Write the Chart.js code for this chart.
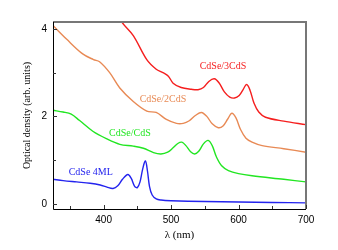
<!DOCTYPE html>
<html>
<head>
<meta charset="utf-8">
<script src="https://cdn.jsdelivr.net/npm/chart.js@4"></script>
<style>
  html, body { margin: 0; padding: 0; background: #fff; }
  #wrap { width: 338px; height: 250px; }
</style>
</head>
<body>
<div id="wrap"><canvas id="chart" width="338" height="250"></canvas></div>
<script>
// wavelength (nm) and optical density for each sample
const blueX = [325, 340, 360, 380, 395, 405, 414, 421, 428, 436, 441, 446, 450, 454, 458, 462, 465, 468, 472, 478, 485, 500, 550, 600, 650, 700];
const blueY = [0.56, 0.53, 0.5, 0.47, 0.43, 0.38, 0.35, 0.41, 0.56, 0.67, 0.58, 0.4, 0.37, 0.5, 0.8, 0.98, 0.75, 0.4, 0.2, 0.11, 0.085, 0.07, 0.05, 0.04, 0.03, 0.02];

const greenX = [325, 340, 352, 364, 384, 404, 424, 444, 459, 474, 485, 495, 503, 510, 516, 522, 529, 535, 541, 548, 555, 561, 567, 575, 585, 600, 620, 667, 700];
const greenY = [2.14, 2.1, 2.05, 1.91, 1.66, 1.49, 1.36, 1.32, 1.27, 1.17, 1.14, 1.18, 1.28, 1.38, 1.41, 1.33, 1.19, 1.14, 1.2, 1.37, 1.45, 1.33, 1.08, 0.87, 0.76, 0.69, 0.64, 0.56, 0.5];

const orangeX = [325, 345, 369, 385, 394, 409, 424, 444, 464, 478, 493, 508, 518, 527, 536, 545, 553, 561, 570, 577, 584, 590, 596, 603, 611, 620, 635, 667, 700];
const orangeY = [4.08, 3.77, 3.43, 3.3, 3.25, 3.0, 2.65, 2.34, 2.12, 2.09, 1.93, 1.84, 1.84, 1.9, 2.02, 2.09, 2.0, 1.83, 1.74, 1.78, 1.94, 2.07, 1.97, 1.7, 1.5, 1.41, 1.33, 1.26, 1.18];

const redX = [420, 427, 444, 464, 478, 488, 496, 503, 515, 530, 540, 548, 556, 564, 571, 579, 587, 594, 601, 607, 612, 617, 623, 630, 640, 667, 700];
const redY = [4.4, 4.16, 3.85, 3.3, 3.08, 3.0, 2.92, 2.76, 2.66, 2.62, 2.61, 2.66, 2.8, 2.86, 2.77, 2.56, 2.44, 2.42, 2.48, 2.62, 2.73, 2.6, 2.3, 2.1, 1.98, 1.89, 1.81];

const seriesNames = ['CdSe 4ML', 'CdSe/CdS', 'CdSe/2CdS', 'CdSe/3CdS'];
const seriesColors = ['#2323ee', '#22e622', '#e88a55', '#f51e1e'];
// where the sample names sit, in data coordinates
const labelX = [381, 439, 488, 577];
const labelY = [0.72, 1.6, 2.38, 3.14];

const xTicks = [350, 400, 450, 500, 550, 600, 650, 700];
const yTicks = [0, 1, 2, 3, 4];

function pts(xs, ys) {
  return xs.map((x, i) => ({ x: x, y: ys[i] }));
}

const allX = [blueX, greenX, orangeX, redX];
const allY = [blueY, greenY, orangeY, redY];

const datasets = seriesNames.map((name, i) => ({
  label: name,
  data: pts(allX[i], allY[i]),
  borderColor: seriesColors[i],
  borderWidth: 1.4,
  pointRadius: 0,
  fill: false,
  tension: 0.35
}));

// frame, inward ticks and curve labels
const decor = {
  id: 'decor',
  afterDatasetsDraw(chart) {
    const c = chart.ctx;
    const a = chart.chartArea;
    const xs = chart.scales.x, ys = chart.scales.y;
    c.save();
    c.strokeStyle = '#777';
    c.lineWidth = 2;
    c.beginPath();
    c.moveTo(a.left, a.top);
    c.lineTo(a.right, a.top);
    c.lineTo(a.right, a.bottom);
    c.stroke();
    c.strokeStyle = '#000';
    c.lineWidth = 1;
    c.beginPath();
    c.moveTo(a.left + 0.5, a.top);
    c.lineTo(a.left + 0.5, a.bottom + 0.5);
    c.lineTo(a.right, a.bottom + 0.5);
    c.stroke();
    // ticks
    c.strokeStyle = '#333';
    xTicks.forEach(v => {
      const px = Math.round(xs.getPixelForValue(v)) + 0.5;
      const len = v % 100 === 0 ? 4 : 3;
      c.beginPath();
      c.moveTo(px, a.bottom);
      c.lineTo(px, a.bottom - len);
      c.stroke();
    });
    yTicks.forEach(v => {
      const py = Math.round(ys.getPixelForValue(v)) + 0.5;
      const len = v % 2 === 0 ? 4 : 3;
      c.beginPath();
      c.moveTo(a.left, py);
      c.lineTo(a.left + len, py);
      c.stroke();
    });
    c.font = '10px "Liberation Serif", "DejaVu Serif", serif';
    c.textAlign = 'center';
    c.textBaseline = 'middle';
    seriesNames.forEach((name, i) => {
      c.fillStyle = seriesColors[i];
      c.fillText(name, xs.getPixelForValue(labelX[i]), ys.getPixelForValue(labelY[i]));
    });
    c.restore();
  }
};

new Chart(document.getElementById('chart'), {
  type: 'line',
  data: { datasets: datasets },
  options: {
    responsive: false,
    animation: false,
    events: [],
    layout: { padding: { left: 0, top: 22, right: 32, bottom: 0 } },
    plugins: { legend: { display: false }, tooltip: { enabled: false } },
    scales: {
      x: {
        type: 'linear',
        min: 325,
        max: 700,
        afterBuildTicks: s => { s.ticks = xTicks.map(v => ({ value: v })); },
        afterFit: s => { s.height = 41; },
        grid: { display: false, drawTicks: false },
        border: { display: false },
        ticks: {
          autoSkip: false,
          maxRotation: 0,
          padding: 5,
          color: '#000',
          font: { family: '"Liberation Sans", Arial, sans-serif', size: 10 },
          callback: v => (v % 100 === 0 ? String(v) : '')
        },
        title: {
          display: true,
          text: 'λ (nm)',
          color: '#000',
          padding: { top: 8, bottom: 8 },
          font: { family: '"Liberation Serif", "DejaVu Serif", serif', size: 11 }
        }
      },
      y: {
        min: -0.12,
        max: 4.16,
        afterBuildTicks: s => { s.ticks = yTicks.map(v => ({ value: v })); },
        afterFit: s => { s.width = 53; },
        grid: { display: false, drawTicks: false },
        border: { display: false },
        ticks: {
          padding: 6,
          color: '#000',
          font: { family: '"Liberation Sans", Arial, sans-serif', size: 10 },
          callback: v => (v % 2 === 0 ? String(v) : '')
        },
        title: {
          display: true,
          text: 'Optical density (arb. units)',
          color: '#000',
          padding: { top: 21, bottom: 21 },
          font: { family: '"Liberation Serif", "DejaVu Serif", serif', size: 10 }
        }
      }
    }
  },
  plugins: [decor]
});
</script>
</body>
</html>
